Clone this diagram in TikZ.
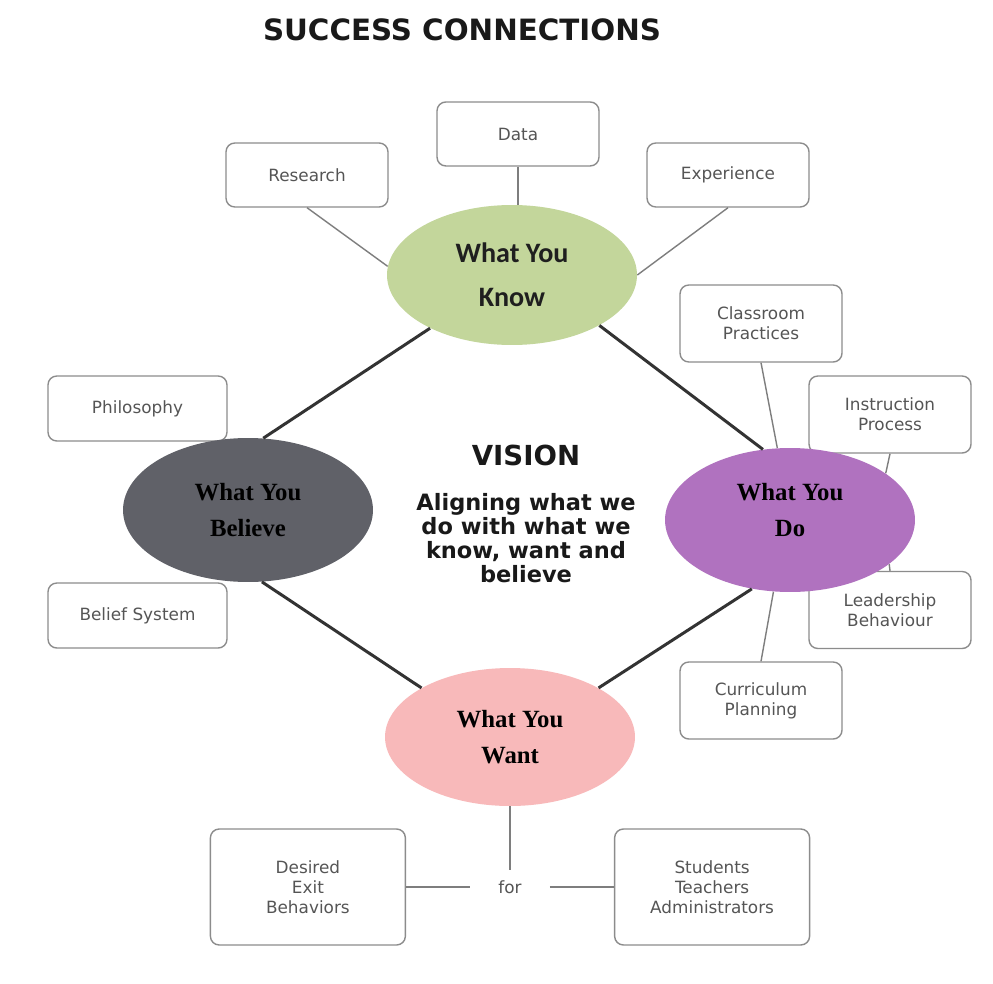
\documentclass[tikz,border=0pt]{standalone}
\usepackage{fontspec}
\setmainfont{DejaVu Sans}
\newfontfamily\calfont{Carlito}
\newfontfamily\timesfont{Liberation Serif}
\usepackage{tikz}
\usetikzlibrary{positioning,shapes.geometric}
\pgfdeclarelayer{back}
\pgfsetlayers{back,main}

\definecolor{knowgreen}{HTML}{C3D69B}
\definecolor{believegrey}{HTML}{606168}
\definecolor{dopurple}{HTML}{B072BF}
\definecolor{wantpink}{HTML}{F8B9BA}
\definecolor{boxline}{HTML}{8C8C8C}
\definecolor{boxtext}{HTML}{555555}
\definecolor{darkline}{HTML}{333333}

\tikzset{
  item/.style={draw=boxline, line width=0.8pt, rounded corners=5pt, align=center,
    text=boxtext, font=\fontsize{9.6}{11.3}\selectfont,
    minimum width=3.24cm, minimum height=1.28cm, inner sep=2pt},
  tallitem/.style={item, minimum height=1.54cm},
  wideitem/.style={item, minimum width=3.58cm, minimum height=1.3cm},
  bigitem/.style={item, minimum width=3.9cm, minimum height=2.32cm},
  hub/.style={ellipse, minimum width=5cm, minimum height=2.8cm, inner sep=0pt,
    align=center, font=\timesfont\bfseries\fontsize{14.1}{20.4}\selectfont},
  link/.style={draw=boxline!90!black, line width=0.8pt},
  spoke/.style={draw=darkline, line width=1.7pt}
}

\begin{document}
\begin{tikzpicture}[x=0.02cm, y=-0.02cm]
      \useasboundingbox (0,0) rectangle (993,983);
      \node[font=\bfseries\fontsize{16.7}{18}\selectfont, text=black!90] (title) at (462,30) {SUCCESS CONNECTIONS};

      \node[hub, fill=knowgreen, text=black!88, font=\calfont\bfseries\fontsize{16}{25}\selectfont] (know) at (512,275) {What You\\Know};
      \node[hub, fill=believegrey, minimum height=2.88cm] (believe) at (248,510) {What You\\Believe};
      \node[hub, fill=dopurple, minimum height=2.88cm] (do) at (790,520) {\begin{tabular}{@{}c@{}}What You\\Do\\[10pt]\end{tabular}};
      \node[hub, fill=wantpink, minimum height=2.76cm] (want) at (510,737) {What You\\Want};

      \node[inner sep=0pt, font=\bfseries\fontsize{15.7}{18}\selectfont, text=black!90] (vision) at (526,455) {VISION};
      \node[inner sep=0pt, align=center, font=\bfseries\fontsize{12.8}{13.8}\selectfont, text=black!90] (aim) at (526,538) {Aligning what we\\do with what we\\know, want and\\believe};

      \begin{pgfonlayer}{back}
      \fill[white] (0,0) rectangle (993,983);
      \node[item, above=0.76cm of know, xshift=0.12cm] (data) {Data};
      \node[item] (research) at (307,175) {Research};
      \node[item] (experience) at (728,175) {Experience};
      \node[tallitem] (classroom) at (761,323.5) {Classroom\\Practices};
      \node[tallitem] (instruct) at (890,414.5) {Instruction\\Process};
      \node[tallitem] (leader) at (890,610) {Leadership\\Behaviour};
      \node[tallitem] (curriculum) at (761,700.5) {Curriculum\\Planning};
      \node[wideitem] (philosophy) at (137.5,408.5) {Philosophy};
      \node[wideitem] (beliefsys) at (137.5,615.5) {Belief System};
      \node[text=boxtext, font=\fontsize{9.6}{11.3}\selectfont, inner xsep=0.56cm, inner ysep=0.2cm] (fornode) at (510,887) {for};
      \node[bigitem, left=1.28cm of fornode] (desired) {Desired\\Exit\\Behaviors};
      \node[bigitem, right=1.28cm of fornode] (people) {Students\\Teachers\\Administrators};

      \draw[link] (data.south) -- (data.south |- know.north);
      \draw[link] (research.south) -- (know.176);
      \draw[link] (experience.south) -- (know.0);
      \draw[link] (classroom.south) -- (do.100);
      \draw[link] (instruct.south) -- (do.26);
      \draw[link] (leader.north) -- (do.-24);
      \draw[link] (curriculum.north) -- (do.257);
      \draw[link] (want) -- (fornode);
      \draw[link] (desired) -- (fornode);
      \draw[link] (fornode) -- (people);
      \end{pgfonlayer}

      \draw[spoke] (know.213) -- (believe.78);
      \draw[spoke] (know.-30) -- (do.111);
      \draw[spoke] (believe.-79) -- (want.151);
      \draw[spoke] (want.29) -- (do.241);
    \end{tikzpicture}
\end{document}
